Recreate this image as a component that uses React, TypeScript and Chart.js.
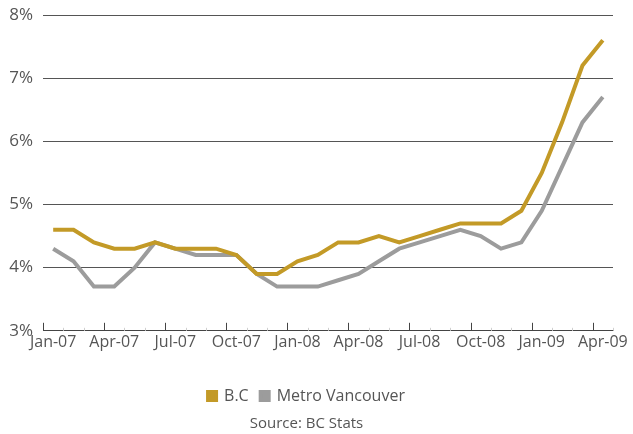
import React, { useEffect, useRef } from "react";
import { Chart, registerables } from "chart.js";

Chart.register(...registerables);

const months = [
  "Jan-07", "Feb-07", "Mar-07", "Apr-07", "May-07", "Jun-07", "Jul-07", "Aug-07", "Sep-07", "Oct-07", "Nov-07", "Dec-07",
  "Jan-08", "Feb-08", "Mar-08", "Apr-08", "May-08", "Jun-08", "Jul-08", "Aug-08", "Sep-08", "Oct-08", "Nov-08", "Dec-08",
  "Jan-09", "Feb-09", "Mar-09", "Apr-09",
];

const bcRates = [
  4.6, 4.6, 4.4, 4.3, 4.3, 4.4, 4.3, 4.3, 4.3, 4.2, 3.9, 3.9,
  4.1, 4.2, 4.4, 4.4, 4.5, 4.4, 4.5, 4.6, 4.7, 4.7, 4.7, 4.9,
  5.5, 6.3, 7.2, 7.6,
];

const vancouverRates = [
  4.3, 4.1, 3.7, 3.7, 4.0, 4.4, 4.3, 4.2, 4.2, 4.2, 3.9, 3.7,
  3.7, 3.7, 3.8, 3.9, 4.1, 4.3, 4.4, 4.5, 4.6, 4.5, 4.3, 4.4,
  4.9, 5.6, 6.3, 6.7,
];

const seriesNames = ["B.C", "Metro Vancouver"];
const sourceText = "Source: BC Stats";

const GOLD = "#c39a27";
const GREY = "#9c9c9c";
const TEXT = "#555555";
const FONT = "'Open Sans', 'Noto Sans', sans-serif";

const axisTicks = {
  id: "axisTicks",
  afterDatasetsDraw(chart: any) {
    const xs = chart.scales.x;
    const ctx = chart.ctx;
    const n = chart.data.labels.length;
    const step = xs.width / n;
    const base = xs.top;
    ctx.save();
    for (let i = 0; i <= n; i++) {
      const px = Math.round(xs.left + step * i) + 0.5;
      const major = i % 3 === 0;
      ctx.strokeStyle = major ? "#444444" : "#cfcfcf";
      ctx.lineWidth = 1;
      ctx.beginPath();
      ctx.moveTo(px, base);
      ctx.lineTo(px, base - (major ? 8 : 3));
      ctx.stroke();
    }
    ctx.restore();
  },
};

export default function App() {
  const ref = useRef<HTMLCanvasElement | null>(null);

  useEffect(() => {
    if (!ref.current) return;
    const chart = new Chart(ref.current, {
      type: "line",
      data: {
        labels: months,
        datasets: [
          {
            label: seriesNames[0],
            data: bcRates,
            borderColor: GOLD,
            backgroundColor: GOLD,
            borderWidth: 4,
            pointRadius: 0,
            tension: 0,
          },
          {
            label: seriesNames[1],
            data: vancouverRates,
            borderColor: GREY,
            backgroundColor: GREY,
            borderWidth: 4,
            pointRadius: 0,
            tension: 0,
          },
        ],
      },
      options: {
        animation: false,
        responsive: false,
        layout: { padding: { top: 0, right: 20, left: 0, bottom: 0 } },
        scales: {
          x: {
            type: "category",
            offset: true,
            grid: { display: false, offset: true, drawOnChartArea: false, drawTicks: false },
            border: { display: true, color: "#444444" },
            ticks: {
              autoSkip: false,
              maxRotation: 0,
              padding: 2,
              color: TEXT,
              font: { family: FONT, size: 16 },
              callback: (_v: any, i: number) => (i % 3 === 0 ? months[i] : ""),
            },
            afterFit: (scale: any) => {
              scale.height += 22;
            },
          },
          y: {
            min: 3,
            max: 8,
            grid: { color: "#555555", drawTicks: false },
            border: { display: false },
            ticks: {
              stepSize: 1,
              padding: 10,
              color: TEXT,
              font: { family: FONT, size: 17 },
              callback: (v: any) => `${v}%`,
            },
            afterFit: (scale: any) => {
              scale.width = 43;
              scale.paddingTop = 15;
            },
          },
        },
        plugins: {
          legend: {
            position: "bottom",
            labels: {
              usePointStyle: true,
              pointStyle: "rect",
              boxWidth: 8,
              boxHeight: 8,
              padding: 12,
              color: TEXT,
              font: { family: FONT, size: 16 },
            },
          },
          title: {
            display: true,
            position: "bottom",
            text: sourceText,
            color: TEXT,
            font: { family: FONT, size: 15, weight: "normal" },
            padding: { top: 1, bottom: 1 },
          },
          tooltip: { enabled: false },
        },
      },
      plugins: [axisTicks],
    });
    return () => chart.destroy();
  }, []);

  return (
    <div style={{ position: "fixed", left: 0, top: 0, width: 633, height: 434, background: "#fff" }}>
      <canvas ref={ref} width={633} height={434} style={{ width: 633, height: 434 }} />
    </div>
  );
}
